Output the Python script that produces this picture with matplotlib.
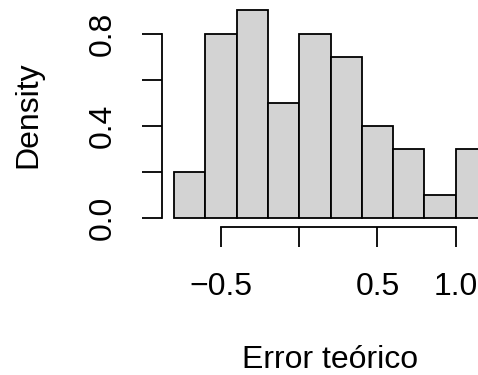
import matplotlib
matplotlib.use("Agg")
import matplotlib.pyplot as plt
import numpy as np

bin_edges = [-0.8, -0.6, -0.4, -0.2, 0.0, 0.2, 0.4, 0.6, 0.8, 1.0, 1.2]
densities = [0.2, 0.8, 0.9, 0.5, 0.8, 0.7, 0.4, 0.3, 0.1, 0.3]
x_ticks = [-0.5, 0.0, 0.5, 1.0]
x_tick_labels = ["\u22120.5", "", "0.5", "1.0"]
y_ticks = [0.0, 0.2, 0.4, 0.6, 0.8]
y_tick_labels = ["0.0", "", "0.4", "", "0.8"]

plt.rcParams['font.family'] = ['Liberation Sans', 'DejaVu Sans']
W, H = 478, 375
fig = plt.figure(figsize=(W/100, H/100), dpi=100)
left, right, bottom, top = 161.5, 499.5, 226.6, 2.1
ax = fig.add_axes([left/W, (H-bottom)/H, (right-left)/W, (bottom-top)/H])

edges = np.array(bin_edges)
ax.bar(edges[:-1], densities, width=np.diff(edges), align='edge',
       color='#D3D3D3', edgecolor='black', linewidth=1.3)

xr = edges[-1]-edges[0]
ax.set_xlim(edges[0]-0.04*xr, edges[-1]+0.04*xr)
ymax = max(densities)
ax.set_ylim(-0.04*ymax, ymax*1.04)

for s in ['top', 'right']:
    ax.spines[s].set_visible(False)
ax.spines['left'].set_bounds(y_ticks[0], y_ticks[-1])
ax.spines['bottom'].set_bounds(x_ticks[0], x_ticks[-1])
for s in ['left', 'bottom']:
    ax.spines[s].set_linewidth(1.3)

fs = 23
ax.set_xticks(x_ticks)
ax.set_xticklabels(x_tick_labels)
ax.set_yticks(y_ticks)
ax.set_yticklabels(y_tick_labels, rotation=90, va='center')
ax.tick_params(axis='both', direction='out', length=14.5, width=1.3, labelsize=fs)
ax.tick_params(axis='x', pad=18.5)
ax.tick_params(axis='y', pad=17)

ax.set_xlabel("Error teórico", fontsize=fs, labelpad=31)
ax.set_ylabel("Density", fontsize=fs, labelpad=32)

fig.savefig("out.png", dpi=100)
